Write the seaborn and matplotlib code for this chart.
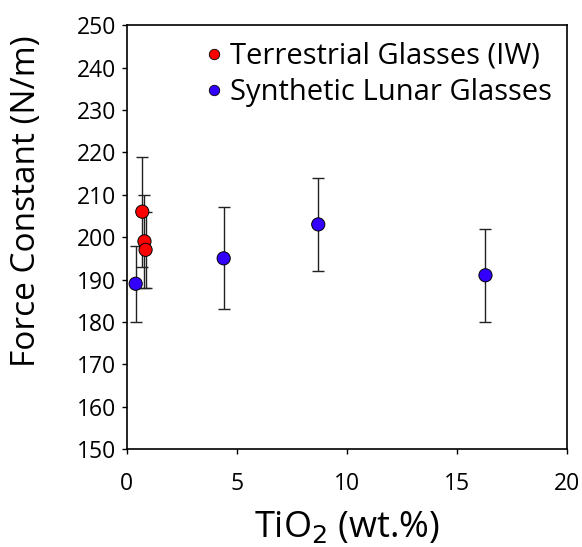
import matplotlib
matplotlib.use("Agg")
import matplotlib.pyplot as plt
import seaborn as sns
import pandas as pd
from matplotlib.lines import Line2D

# Data
terr_tio2 = [0.7, 0.8, 0.85]
terr_k = [206, 199, 197]
terr_err = [13, 11, 9]

lunar_tio2 = [0.4, 4.4, 8.7, 16.3]
lunar_k = [189, 195, 203, 191]
lunar_err = [9, 12, 11, 11]

labels = ["Terrestrial Glasses (IW)", "Synthetic Lunar Glasses"]
colors = ["#FF0000", "#3300FF"]

df = pd.DataFrame({
    "TiO2": terr_tio2 + lunar_tio2,
    "K": terr_k + lunar_k,
    "err": terr_err + lunar_err,
    "group": [labels[0]] * len(terr_tio2) + [labels[1]] * len(lunar_tio2),
})

sns.set_style("white")
plt.rcParams['font.family'] = ['Open Sans', 'DejaVu Sans']
plt.rcParams['text.color'] = 'black'
plt.rcParams['axes.labelcolor'] = 'black'

fig = plt.figure(figsize=(5.82, 5.47), dpi=100)
ax = fig.add_axes([0.218, 0.179, 0.756, 0.775])

for g, sub in df.groupby("group"):
    ax.errorbar(sub["TiO2"], sub["K"], yerr=sub["err"], fmt="none",
                ecolor="#222222", elinewidth=1.0, capsize=4.5, capthick=1.0, zorder=1)

sns.scatterplot(data=df, x="TiO2", y="K", hue="group", palette=dict(zip(labels, colors)),
                s=90, edgecolor="black", linewidth=0.7, ax=ax, zorder=3, legend=False)

ax.set_xlim(0, 20)
ax.set_ylim(150, 250)
ax.set_xticks([0, 5, 10, 15, 20])
ax.set_yticks(range(150, 251, 10))
ax.tick_params(axis="both", which="major", labelsize=16.5, direction="out", length=3.5, width=1,
               left=True, bottom=True, top=False, right=False, colors="black")
ax.tick_params(axis="x", pad=13)
ax.tick_params(axis="y", pad=4)
for sp in ax.spines.values():
    sp.set_color("black")
    sp.set_linewidth(1.2)

ax.set_xlabel("TiO$_2$ (wt.%)", fontsize=26, labelpad=10)
ax.set_ylabel("Force Constant (N/m)", fontsize=24)
ax.yaxis.set_label_coords(-0.19, 0.584)

handles = [Line2D([0], [0], marker="o", linestyle="none", markerfacecolor=c,
                  markeredgecolor="black", markeredgewidth=0.6, markersize=7.5) for c in colors]
ax.legend(handles, labels, loc="upper right", frameon=False, fontsize=21,
          handletextpad=0.05, borderaxespad=0.1, labelspacing=0.25, handlelength=1.0,
          bbox_to_anchor=(1.0, 0.995))

fig.savefig("out.png", dpi=100)
